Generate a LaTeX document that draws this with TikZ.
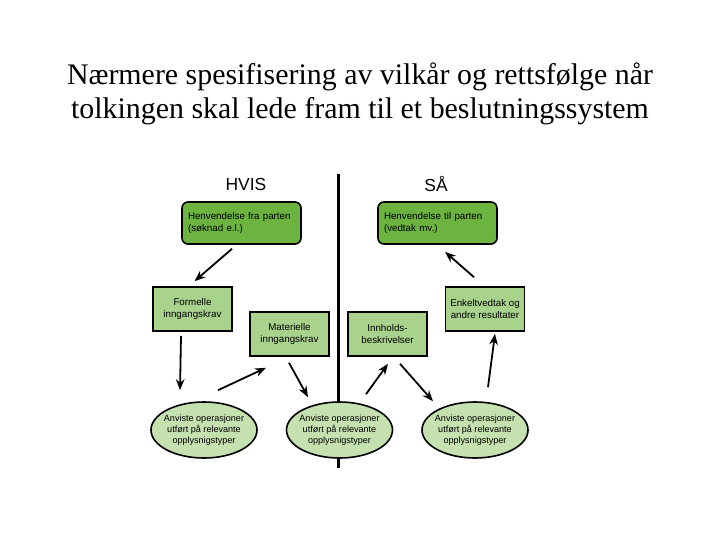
\documentclass[tikz,border=0pt]{standalone}
\usepackage{fontspec}
\setmainfont{Liberation Serif}
\setsansfont{Liberation Sans}
\usetikzlibrary{shapes.geometric,arrows.meta,calc}
\definecolor{darkgr}{HTML}{6DB340}
\definecolor{midgr}{HTML}{A9D38C}
\definecolor{lightgr}{HTML}{C6E1B0}
\tikzset{
  txt/.style={font=\sffamily\fontsize{9.8}{11.5}\selectfont, inner sep=0pt},
  rbox/.style={txt, draw=black, line width=1.6bp, fill=darkgr, rounded corners=6bp,
    minimum width=119bp, minimum height=42bp, text width=107bp, align=left},
  sbox/.style={txt, draw=black, line width=1.6bp, fill=midgr,
    minimum width=79bp, minimum height=44bp, align=center},
  ell/.style={draw=black, line width=1.6bp, fill=lightgr, ellipse, inner sep=0pt,
    minimum width=106bp, minimum height=56bp},
  elltxt/.style={font=\sffamily\fontsize{9.1}{11.3}\selectfont, inner sep=0pt, align=center},
  arr/.style={line width=1.8bp, -{Stealth[length=11bp,width=8.5bp]}},
  head/.style={font=\sffamily\fontsize{17.5}{20}\selectfont, inner sep=0pt}
}
\begin{document}
\begin{tikzpicture}[x=1bp,y=-1bp]
\useasboundingbox (0,0) rectangle (720,540);
\node[font=\fontsize{30}{34}\selectfont, align=center] (title) at (360,94)
  {Nærmere spesifisering av vilkår og rettsfølge når\\tolkingen skal lede fram til et beslutningssystem};
\coordinate (vtop) at (338.5,174);
\coordinate (vbot) at (338.5,468);
\draw[line width=3bp] (vtop) -- (vbot);
\node[head] (hvis) at (246,184) {HVIS};
\node[head] (saa) at (436,184) {SÅ};
\node[rbox] (b1) at (241.5,223) {Henvendelse fra parten\\(søknad e.l.)};
\node[rbox] (b2) at (437.5,223) {Henvendelse til parten\\(vedtak mv.)};
\node[sbox] (f) at (192.5,309) {Formelle\\inngangskrav};
\node[sbox] (m) at (289.5,334) {Materielle\\inngangskrav};
\node[sbox] (i) at (387.5,334) {Innholds-\\beskrivelser};
\node[sbox] (e) at (485,309) {Enkeltvedtak og\\andre resultater};
\node[ell] (e1) at (204,430) {};
\node[elltxt] (t1) at (e1.center) {Anviste operasjoner\\utført på relevante\\opplysnigstyper};
\node[ell] (e2) at (339.5,430) {};
\node[elltxt] (t2) at (e2.center) {Anviste operasjoner\\utført på relevante\\opplysnigstyper};
\node[ell] (e3) at (475,430) {};
\node[elltxt] (t3) at (e3.center) {Anviste operasjoner\\utført på relevante\\opplysnigstyper};
\draw[arr] ($(b1.south)+(-9.5,4)$) -- ($(f.north)+(2,-5)$);
\draw[arr] ($(e.north)+(-11,-9)$) -- ($(b2.south)+(7.5,7)$);
\draw[arr] ($(f.south)+(-11.5,4)$) -- ($(e1.north)+(-24,-11)$);
\draw[arr] ($(e1.north)+(14,-11)$) -- ($(m.south)+(-23.5,11)$);
\draw[arr] ($(m.south)+(-0.5,6)$) -- ($(e2.north)+(-31.5,-4)$);
\draw[arr] ($(e2.north)+(26.5,-7)$) -- ($(i.south)+(0.5,7)$);
\draw[arr] ($(i.south)+(12.5,7)$) -- ($(e3.north)+(-42,0)$);
\draw[arr] ($(e3.north)+(13,-14)$) -- ($(e.south)+(10,2)$);
\end{tikzpicture}
\end{document}
